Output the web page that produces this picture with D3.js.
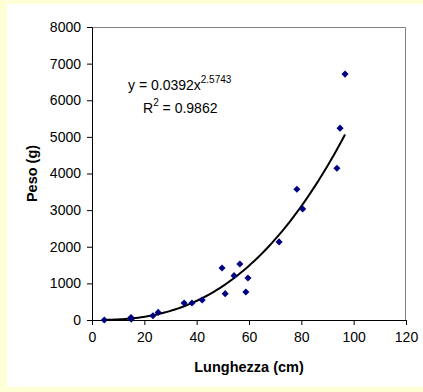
<!DOCTYPE html>
<html>
<head>
<meta charset="utf-8">
<script src="https://cdn.jsdelivr.net/npm/d3@7"></script>
<style>
  body { margin: 0; background: #ffffd6; }
  svg { display: block; }
  text { font-family: Arial, "Liberation Sans", sans-serif; fill: #000; }
</style>
</head>
<body>
<svg width="423" height="392"></svg>
<script>
// lunghezza (cm) e peso (g)
const lunghezza = [4.7, 14.9, 15.0, 23.3, 25.3, 35.2, 38.2, 42.1, 49.7, 50.9, 54.3, 56.5, 58.8, 59.6, 71.5, 78.3, 80.5, 93.6, 94.8, 96.7];
const peso      = [0,   70,   25,   117,  208,  464,  464,  546,  1421, 719,  1211, 1530, 765,  1148, 2132, 3571, 3034, 4145, 5238, 6714];

const xTicks = [0, 20, 40, 60, 80, 100, 120];
const yTicks = [0, 1000, 2000, 3000, 4000, 5000, 6000, 7000, 8000];

// trendline (potenza) come da etichetta
const coefA = 0.0392;
const coefB = 2.5743;

const data = lunghezza.map((d, i) => ({x: d, y: peso[i]}));

const svg = d3.select('svg');
const margin = {top: 27, right: 17, left: 92, bottom: 72};
const innerwidth = 423 - margin.left - margin.right;
const innerheight = 392 - margin.top - margin.bottom;

svg.append('rect')
  .attr('x', 7).attr('y', 4)
  .attr('width', 416).attr('height', 383)
  .attr('fill', '#fff');

const g = svg.append('g')
  .attr('transform', `translate(${margin.left},${margin.top})`);

const xscale = d3.scaleLinear().domain([0, 120]).range([0, innerwidth]);
const yscale = d3.scaleLinear().domain([0, 8000]).range([innerheight, 0]);

// bordo area grafico (alto e destra)
g.append('path')
  .attr('d', `M0,0.5H${innerwidth - 0.5}V${innerheight}`)
  .attr('fill', 'none')
  .attr('stroke', '#808080')
  .attr('stroke-width', 1);

const fmt = d3.format('d');
const xAxis = d3.axisBottom(xscale).tickValues(xTicks).tickFormat(fmt).tickSizeOuter(0).tickSize(5).tickPadding(7);
const yAxis = d3.axisLeft(yscale).tickValues(yTicks).tickFormat(fmt).tickSizeOuter(0).tickSize(5).tickPadding(6);

const xAxisG = g.append('g')
  .attr('transform', `translate(0,${innerheight})`)
  .call(xAxis);
const yAxisG = g.append('g').call(yAxis);

[xAxisG, yAxisG].forEach(a => {
  a.selectAll('.domain').attr('stroke', '#000');
  a.selectAll('.tick line').attr('stroke', '#000');
  a.selectAll('.tick text').style('font-size', '14px').attr('fill', '#000');
});

// curva di tendenza
const xs = d3.range(d3.min(lunghezza), d3.max(lunghezza) + 0.01, 1);
const line = d3.line()
  .x(d => xscale(d))
  .y(d => yscale(coefA * Math.pow(d, coefB)));

g.append('path')
  .attr('d', line(xs))
  .attr('fill', 'none')
  .attr('stroke', '#000')
  .attr('stroke-width', 2);

// punti
const diamond = d3.symbol().type(d3.symbolDiamond2).size(32);
g.selectAll('.pt')
  .data(data)
  .join('path')
  .attr('class', 'pt')
  .attr('d', diamond)
  .attr('transform', d => `translate(${xscale(d.x)},${yscale(d.y)})`)
  .attr('fill', '#000080');

// equazione
const eq = g.append('text')
  .attr('x', 36).attr('y', 63)
  .style('font-size', '14px');
eq.append('tspan').text('y = 0.0392x');
eq.append('tspan').attr('dy', -7).style('font-size', '10px').text('2.5743');

const r2 = g.append('text')
  .attr('x', 51).attr('y', 86)
  .style('font-size', '14px');
r2.append('tspan').text('R');
r2.append('tspan').attr('dy', -7).style('font-size', '10px').text('2');
r2.append('tspan').attr('dy', 7).text(' = 0.9862');

// titoli assi
g.append('text')
  .attr('x', innerwidth / 2)
  .attr('y', innerheight + 52)
  .attr('text-anchor', 'middle')
  .style('font-size', '14.5px')
  .style('font-weight', 'bold')
  .text('Lunghezza (cm)');

g.append('text')
  .attr('transform', 'rotate(-90)')
  .attr('x', -innerheight / 2)
  .attr('y', -55)
  .attr('text-anchor', 'middle')
  .style('font-size', '14.5px')
  .style('font-weight', 'bold')
  .text('Peso (g)');
</script>
</body>
</html>
